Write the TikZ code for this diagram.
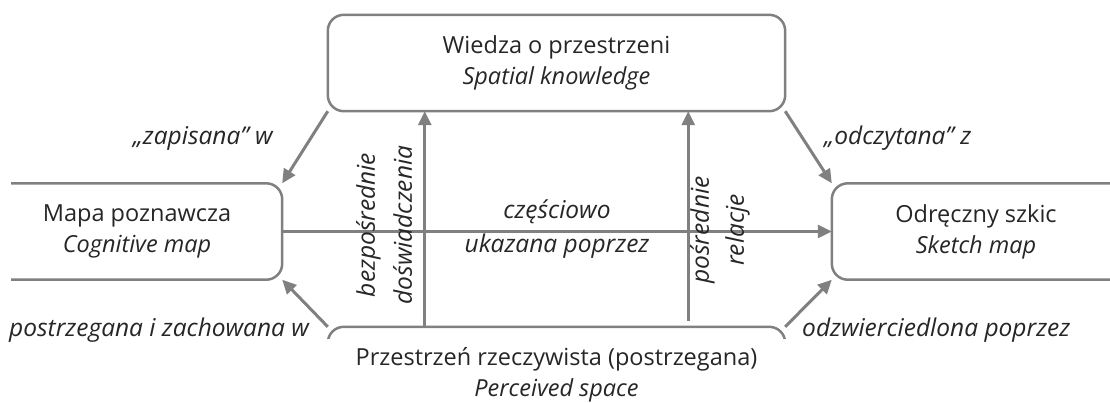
\documentclass[tikz,border=0pt]{standalone}
\usepackage{fontspec}
\setmainfont{Open Sans}
\usetikzlibrary{arrows.meta,calc}

\begin{document}
\begin{tikzpicture}
[x=1pt, y=-1pt,
box/.style={minimum height=96pt, align=center, font=\fontsize{23.5}{31}\selectfont, text=black!85, inner sep=0pt},
frame/.style={gray, line width=2.5pt, rounded corners=16pt},
link/.style={gray, line width=3pt, -{Triangle[length=14pt,width=13pt]}},
reltext/.style={font=\fontsize{24.5}{34}\selectfont\itshape, text=black!85, align=center, inner sep=0pt}]
\useasboundingbox (0,0) rectangle (1110,402);
\node[box, minimum width=457pt] (know) at (556.5,63) {Wiedza o przestrzeni\\\textit{Spatial knowledge}};
\node[box, minimum width=322pt] (cog) at (121,231.5) {\hspace*{32pt}Mapa poznawcza\\\hspace*{32pt}\textit{Cognitive map}};
\node[box, minimum width=318pt] (sketch) at (991,231.5) {Odręczny szkic\hspace*{30pt}\\\textit{Sketch map}\hspace*{30pt}};
\node[box, minimum width=457pt] (perc) at (556.5,375) {Przestrzeń rzeczywista (postrzegana)\\\textit{Perceived space}};
\begin{scope}
\clip (11,0) rectangle (1110,338);
\foreach \n in {know,cog,sketch,perc}
  \draw[frame] (\n.south west) rectangle (\n.north east);
\end{scope}
\draw[link] (know.south west) -- (cog.north east);
\draw[link] (know.south east) -- (sketch.north west);
\draw[link] (perc.north west) -- (cog.south east);
\draw[link] (perc.north east) -- (sketch.south west);
\draw[link] (cog.east) -- (sketch.west);
\coordinate (up1) at ($(perc.north west)!0.212!(perc.north east)$);
\coordinate (up2) at ($(perc.north west)!0.788!(perc.north east)$);
\draw[link] (up1) -- (up1 |- know.south);
\draw[link, shorten <=6pt] (up2) -- (up2 |- know.south);
\node[reltext, anchor=east] (written) at (273,138) {„zapisana” w};
\node[reltext, anchor=west] (read) at (824,138) {„odczytana” z};
\node[reltext, anchor=west] (kept) at (9,330) {postrzegana i zachowana w};
\node[reltext, anchor=west] (mirrored) at (802,330) {odzwierciedlona poprzez};
\node[reltext] (shown) at (557,229) {częściowo\\ukazana poprzez};
\node[reltext, rotate=90, font=\fontsize{24.5}{37}\selectfont\itshape] (direct) at (384,225) {bezpośrednie\\doświadczenia};
\node[reltext, rotate=90, font=\fontsize{24.5}{35}\selectfont\itshape] (indirect) at (720,230) {pośrednie\\relacje};
\end{tikzpicture}
\end{document}
